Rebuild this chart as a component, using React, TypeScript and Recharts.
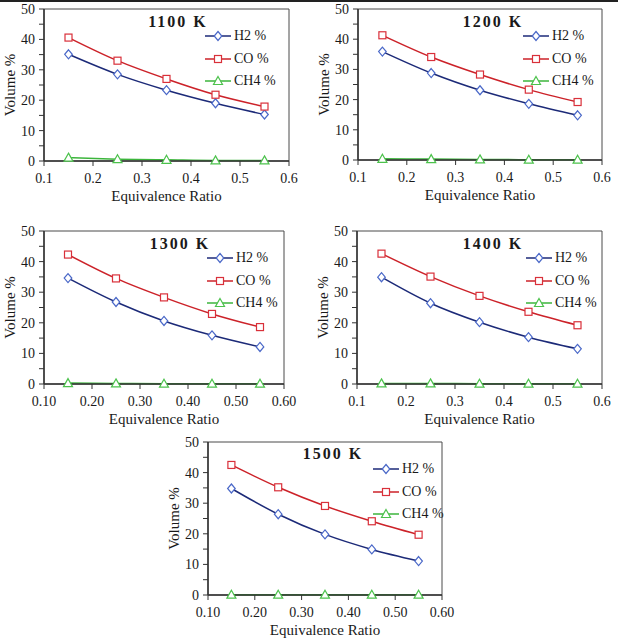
import React from 'react';
import { LineChart, Line, XAxis, YAxis, Legend, ReferenceArea } from 'recharts';

const FONT = '"Liberation Serif", "Times New Roman", serif';

const ratios = [0.15, 0.25, 0.35, 0.45, 0.55];
const xTicks = [0.1, 0.2, 0.3, 0.4, 0.5, 0.6];
const yTicks = [0, 5, 10, 15, 20, 25, 30, 35, 40, 45, 50];

const h2_1100 = [35.1, 28.5, 23.3, 19.0, 15.3];
const co_1100 = [40.6, 33.0, 27.0, 21.8, 17.9];
const ch4_1100 = [1.1, 0.6, 0.4, 0.2, 0.2];

const h2_1200 = [35.9, 28.8, 23.1, 18.6, 14.8];
const co_1200 = [41.3, 34.1, 28.3, 23.3, 19.2];
const ch4_1200 = [0.4, 0.3, 0.2, 0.1, 0.1];

const h2_1300 = [34.6, 26.8, 20.6, 15.9, 12.1];
const co_1300 = [42.3, 34.5, 28.3, 22.9, 18.6];
const ch4_1300 = [0.3, 0.2, 0.1, 0.1, 0.1];

const h2_1400 = [34.9, 26.4, 20.2, 15.3, 11.5];
const co_1400 = [42.6, 35.1, 28.8, 23.6, 19.2];
const ch4_1400 = [0.2, 0.2, 0.1, 0.1, 0.1];

const h2_1500 = [34.8, 26.4, 19.8, 14.9, 11.1];
const co_1500 = [42.5, 35.2, 29.1, 24.1, 19.7];
const ch4_1500 = [0.1, 0.1, 0.1, 0.1, 0.1];

const titles = ['1100 K', '1200 K', '1300 K', '1400 K', '1500 K'];
const seriesOrder = ['H2', 'CO', 'CH4'];
const seriesNames = { H2: 'H2 %', CO: 'CO %', CH4: 'CH4 %' };

const build = (h2: number[], co: number[], ch4: number[]) =>
  ratios.map((x, i) => ({ x, H2: h2[i], CO: co[i], CH4: ch4[i] }));

const datasets = [
  build(h2_1100, co_1100, ch4_1100),
  build(h2_1200, co_1200, ch4_1200),
  build(h2_1300, co_1300, ch4_1300),
  build(h2_1400, co_1400, ch4_1400),
  build(h2_1500, co_1500, ch4_1500),
];

// layout: plot left/top, plot width/height, title centre, legend line start, decimals
const layout = [
  { L: 44, T: 9, W: 245, H: 152, tx: 178, ty: 22, lx: 205, dec: 1 },
  { L: 358, T: 9, W: 244, H: 151, tx: 493, ty: 22, lx: 523, dec: 1 },
  { L: 44, T: 231, W: 240, H: 153, tx: 180, ty: 244, lx: 207, dec: 2 },
  { L: 357, T: 231, W: 245, H: 153, tx: 493, ty: 244, lx: 526, dec: 1 },
  { L: 208, T: 442, W: 234, H: 153, tx: 333, ty: 454, lx: 373, dec: 2 },
];

const COLORS = {
  H2: { line: '#1c2a78', mark: '#4a68c8' },
  CO: { line: '#cc2229', mark: '#d9303a' },
  CH4: { line: '#3cb53c', mark: '#4cc24c' },
};

const marker = (kind: string, cx: number, cy: number, key?: string) => {
  if (cx == null || cy == null) return null;
  if (kind === 'H2') {
    return (
      <path key={key} d={`M${cx},${cy - 4.5}L${cx + 3.8},${cy}L${cx},${cy + 4.5}L${cx - 3.8},${cy}Z`}
        fill="#fff" stroke={COLORS.H2.mark} strokeWidth={1.2} />
    );
  }
  if (kind === 'CO') {
    return (
      <rect key={key} x={cx - 3.5} y={cy - 3.5} width={7} height={7}
        fill="#fff" stroke={COLORS.CO.mark} strokeWidth={1.2} />
    );
  }
  return (
    <path key={key} d={`M${cx},${cy - 4.5}L${cx + 4.5},${cy + 3.5}L${cx - 4.5},${cy + 3.5}Z`}
      fill="#fff" stroke={COLORS.CH4.mark} strokeWidth={1.2} />
  );
};

const dotFor = (kind: string) => (p: any) => marker(kind, p.cx, p.cy, `${kind}-${p.index}`);

const LegendContent = (props: any) => {
  const payload = [...(props.payload || [])].sort(
    (a: any, b: any) => seriesOrder.indexOf(a.dataKey) - seriesOrder.indexOf(b.dataKey)
  );
  return (
    <div style={{ fontFamily: FONT, fontSize: 14, color: '#1a1a1a' }}>
      {payload.map((e: any) => {
        const k = e.dataKey as 'H2' | 'CO' | 'CH4';
        return (
          <div key={k} style={{ display: 'flex', alignItems: 'center', height: 22.5, whiteSpace: 'nowrap' }}>
            <svg width={28} height={12} style={{ overflow: 'visible' }}>
              <line x1={0} y1={6} x2={26} y2={6} stroke={COLORS[k].line} strokeWidth={1.5} />
              {marker(k, 13, 6)}
            </svg>
            <span style={{ marginLeft: 1 }}>{seriesNames[k]}</span>
          </div>
        );
      })}
    </div>
  );
};

const Panel = ({ idx }: { idx: number }) => {
  const g = layout[idx];
  const data = datasets[idx];
  const ox = g.L - 44;
  const oy = g.T - 9;
  const w = g.W + 66;
  const h = g.H + 54;
  const tickStyle = { fontFamily: FONT, fontSize: 14, fill: '#1a1a1a' };
  const titleStyle = { fontFamily: FONT, fontSize: 15, fill: '#1a1a1a' };
  return (
    <div style={{ position: 'absolute', left: ox, top: oy, width: w, height: h }}>
      <LineChart width={w} height={h} data={data} margin={{ top: 9, right: 22, left: 0, bottom: 0 }}>
        <ReferenceArea x1={0.1} x2={0.6} y1={0} y2={50} fill="none" stroke="#4a4a4a" strokeWidth={1} ifOverflow="visible" />
        <XAxis
          dataKey="x"
          type="number"
          domain={[0.1, 0.6]}
          ticks={xTicks}
          interval={0}
          tickFormatter={(v: number) => v.toFixed(g.dec)}
          tick={tickStyle}
          tickSize={5}
          tickMargin={7}
          height={45}
          axisLine={{ stroke: '#333', strokeWidth: 1.5 }}
          tickLine={{ stroke: '#333' }}
          label={{ value: 'Equivalence Ratio', position: 'insideBottom', offset: 5, style: titleStyle }}
        />
        <YAxis
          type="number"
          domain={[0, 50]}
          ticks={yTicks}
          interval={0}
          tickFormatter={(v: number) => (v % 10 === 0 ? String(v) : '')}
          tick={tickStyle}
          tickSize={5}
          tickMargin={4}
          width={44}
          axisLine={{ stroke: '#333', strokeWidth: 1.5 }}
          tickLine={{ stroke: '#333' }}
          label={{ value: 'Volume %', angle: -90, position: 'insideLeft', offset: 10, style: { ...titleStyle, textAnchor: 'middle' } }}
        />
        <Line type="monotone" dataKey="H2" name={seriesNames.H2} stroke={COLORS.H2.line} strokeWidth={1.5} dot={dotFor('H2')} activeDot={false} isAnimationActive={false} />
        <Line type="monotone" dataKey="CO" name={seriesNames.CO} stroke={COLORS.CO.line} strokeWidth={1.5} dot={dotFor('CO')} activeDot={false} isAnimationActive={false} />
        <Line type="monotone" dataKey="CH4" name={seriesNames.CH4} stroke={COLORS.CH4.line} strokeWidth={1.5} dot={dotFor('CH4')} activeDot={false} isAnimationActive={false} />
        <Legend
          layout="vertical"
          align="center"
          verticalAlign="middle"
          content={<LegendContent />}
          wrapperStyle={{ position: 'absolute', left: g.lx - ox, top: 9 + 27 - 11, width: 100, height: 70 }}
        />
      </LineChart>
      <div
        style={{
          position: 'absolute',
          left: g.tx - ox,
          top: g.ty - oy,
          transform: 'translate(-50%, -50%)',
          fontFamily: FONT,
          fontWeight: 'bold',
          fontSize: 16,
          letterSpacing: 2,
          color: '#1a1a1a',
          whiteSpace: 'nowrap',
        }}
      >
        {titles[idx]}
      </div>
    </div>
  );
};

export default function App() {
  return (
    <div style={{ position: 'absolute', left: 0, top: 0, width: 618, height: 640, background: '#fff', overflow: 'hidden' }}>
      <div style={{ position: 'absolute', left: 0, top: 0, width: 618, height: 2, background: '#222' }} />
      {layout.map((_, i) => (
        <Panel key={i} idx={i} />
      ))}
    </div>
  );
}
